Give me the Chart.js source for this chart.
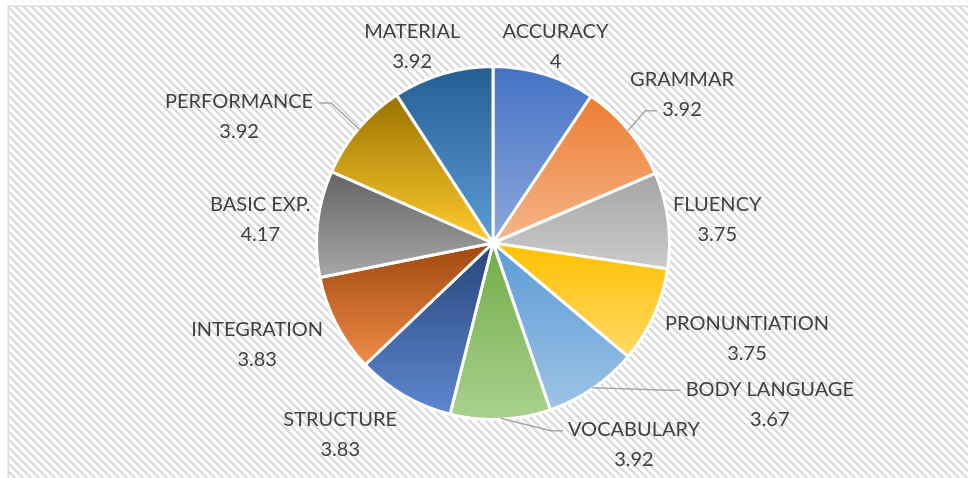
<!DOCTYPE html>
<html>
<head>
<meta charset="utf-8">
<script src="https://cdn.jsdelivr.net/npm/chart.js@4.4.1/dist/chart.umd.min.js"></script>
<style>
  html, body { margin: 0; padding: 0; background: #ffffff; }
  #wrap { width: 968px; height: 478px; }
</style>
</head>
<body>
<div id="wrap"><canvas id="c" width="968" height="478"></canvas></div>
<script>
// ---- data ----
const categories = ['ACCURACY', 'GRAMMAR', 'FLUENCY', 'PRONUNTIATION', 'BODY LANGUAGE', 'VOCABULARY',
                    'STRUCTURE', 'INTEGRATION', 'BASIC EXP.', 'PERFORMANCE', 'MATERIAL'];
const values = [4, 3.92, 3.75, 3.75, 3.67, 3.92, 3.83, 3.83, 4.17, 3.92, 3.92];

// ---- styles ----
const topColors    = ['#4472C4', '#ED7D31', '#A5A5A5', '#FFC000', '#5B9BD5', '#70AD47',
                      '#264478', '#9E480E', '#636363', '#997300', '#255E91'];
const bottomColors = ['#8FA8DC', '#F5B68A', '#CBCBCB', '#FFD966', '#9DC3E6', '#A9D18E',
                      '#5F87D0', '#F08C48', '#A8A8A8', '#FFCC2E', '#5D9CD6'];

// ---- label layout (pixel nudges from the default outside anchor) ----
const labelNudge = [[1.5, 5], [27.5, -14], [16, 4], [62.5, 9], [158, -12], [132, -8],
                    [-47, 10], [-49.5, 5], [-24, 0], [-94, 10], [-21, 5]];
// leader line: null = none, otherwise which text line it attaches to
const leaderLine = [null, 1, null, null, 0, 0, null, null, null, 0, null];

const FONT = '20px Lato, "Open Sans", sans-serif';
const TEXT_COLOR = '#404040';

function makePattern() {
  const t = document.createElement('canvas');
  t.width = 8; t.height = 8;
  const g = t.getContext('2d');
  g.fillStyle = '#ffffff';
  g.fillRect(0, 0, 8, 8);
  g.fillStyle = '#D9D9D9';
  for (let y = 0; y < 8; y++) {
    for (let x = 0; x < 8; x++) {
      if (((x - y) % 8 + 8) % 8 < 3) g.fillRect(x, y, 1, 1);
    }
  }
  return t;
}

function sliceGradient(context) {
  const chart = context.chart;
  const area = chart.chartArea;
  const i = context.dataIndex;
  if (!area) return topColors[i];
  const cx = (area.left + area.right) / 2;
  const cy = (area.top + area.bottom) / 2;
  const R = (Math.min(area.right - area.left, area.bottom - area.top) - 3) / 2;
  const total = values.reduce((a, b) => a + b, 0);
  let before = 0;
  for (let k = 0; k < i; k++) before += values[k];
  const a0 = -Math.PI / 2 + before / total * 2 * Math.PI;
  const a1 = a0 + values[i] / total * 2 * Math.PI;
  const ys = [cy, cy + R * Math.sin(a0), cy + R * Math.sin(a1)];
  // include extreme points (top / bottom) if inside the arc
  [-Math.PI / 2, Math.PI / 2, 3 * Math.PI / 2].forEach(a => {
    if (a > a0 && a < a1) ys.push(cy + R * Math.sin(a));
  });
  const yTop = Math.min(...ys), yBot = Math.max(...ys);
  const g = chart.ctx.createLinearGradient(0, yTop, 0, yBot);
  g.addColorStop(0, topColors[i]);
  g.addColorStop(1, bottomColors[i]);
  return g;
}

const backgroundPlugin = {
  id: 'bg',
  beforeDraw(chart) {
    const ctx = chart.ctx;
    ctx.save();
    ctx.fillStyle = '#ffffff';
    ctx.fillRect(0, 0, chart.width, chart.height);
    ctx.fillStyle = ctx.createPattern(makePattern(), 'repeat');
    ctx.fillRect(9, 7, chart.width - 9, chart.height - 7);
    ctx.strokeStyle = '#D9D9D9';
    ctx.lineWidth = 1.5;
    ctx.strokeRect(8.25, 6.25, chart.width + 10, chart.height + 10);
    ctx.restore();
  }
};

const labelPlugin = {
  id: 'outLabels',
  afterDatasetsDraw(chart) {
    const ctx = chart.ctx;
    const meta = chart.getDatasetMeta(0);
    ctx.save();
    ctx.font = FONT;
    ctx.textAlign = 'center';
    ctx.textBaseline = 'middle';
    meta.data.forEach((el, i) => {
      const p = el.getProps(['x', 'y', 'startAngle', 'endAngle', 'outerRadius'], true);
      const mid = (p.startAngle + p.endAngle) / 2;
      const dist = p.outerRadius + 33.5;
      const bx = p.x + Math.cos(mid) * dist + labelNudge[i][0];
      const by = p.y + Math.sin(mid) * dist + labelNudge[i][1];
      const lines = [categories[i], String(values[i])];
      const y0 = by - 15;
      const lh = 30;
      if (leaderLine[i] !== null) {
        const li = leaderLine[i];
        const w = ctx.measureText(lines[li]).width;
        const ly = y0 + li * lh + 1;
        const rightSide = bx > p.x;
        const ex = rightSide ? bx - w / 2 - 5 : bx + w / 2 + 6;
        const elx = rightSide ? ex - 12 : ex + 12;
        const sx = p.x + Math.cos(mid) * (p.outerRadius - 1);
        const sy = p.y + Math.sin(mid) * (p.outerRadius - 1);
        ctx.beginPath();
        ctx.moveTo(sx, sy);
        ctx.lineTo(elx, ly);
        ctx.lineTo(ex, ly);
        ctx.strokeStyle = '#A6A6A6';
        ctx.lineWidth = 1.5;
        ctx.stroke();
      }
      ctx.fillStyle = TEXT_COLOR;
      lines.forEach((t, k) => ctx.fillText(t, bx, y0 + k * lh));
    });
    ctx.restore();
  }
};

function build() {
  new Chart(document.getElementById('c'), {
    type: 'pie',
    data: {
      labels: categories,
      datasets: [{
        data: values,
        backgroundColor: sliceGradient,
        borderColor: '#ffffff',
        borderWidth: 3
      }]
    },
    options: {
      responsive: false,
      devicePixelRatio: 1,
      animation: false,
      layout: { padding: { left: 315, right: 297, top: 65, bottom: 57 } },
      plugins: {
        legend: { display: false },
        tooltip: { enabled: false }
      }
    },
    plugins: [backgroundPlugin, labelPlugin]
  });
}

if (document.fonts && document.fonts.load) {
  document.fonts.load(FONT).then(build, build);
} else {
  build();
}
</script>
</body>
</html>
